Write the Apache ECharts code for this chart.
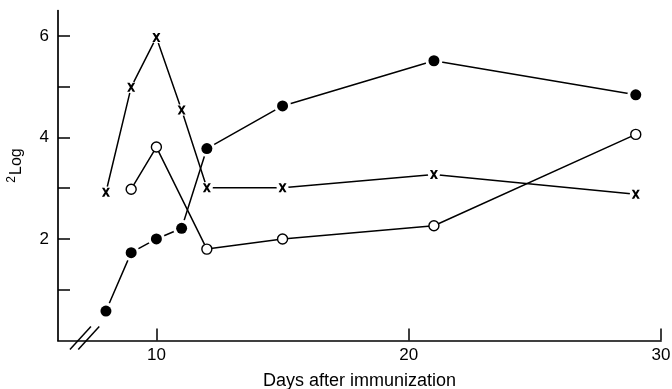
<!DOCTYPE html>
<html>
<head>
<meta charset="utf-8">
<script src="https://cdn.jsdelivr.net/npm/echarts@6/dist/echarts.min.js"></script>
<style>
html,body{margin:0;padding:0;background:#fff;}
#c{width:672px;height:389px;}
</style>
</head>
<body>
<div id="c"></div>
<script>
// Data
const filledDays = [8, 9, 10, 11, 12, 15, 21, 29];
const filledVals = [0.58, 1.73, 2.0, 2.21, 3.78, 4.62, 5.51, 4.84];
const openDays = [9, 10, 12, 15, 21, 29];
const openVals = [2.98, 3.81, 1.80, 2.0, 2.26, 4.06];
const crossDays = [8, 9, 10, 11, 12, 15, 21, 29];
const crossVals = [2.92, 4.99, 5.97, 4.54, 3.01, 3.01, 3.27, 2.88];
const xTickLabels = [10, 20, 30];
const yTickLabels = [2, 4, 6];
const yMinorTicks = [1, 2, 3, 4, 5, 6];
const xAxisName = 'Days after immunization';
const yAxisName = '{sup|2}Log';
const breakAt = [6.89, 7.22];

const pairs = (xs, ys) => xs.map((x, i) => [x, ys[i]]);
const filled = pairs(filledDays, filledVals);
const open = pairs(openDays, openVals);
const cross = pairs(crossDays, crossVals);

const FONT = 'Liberation Sans';
const crossPath = 'path://M0,0 L3,0 L5,3 L7,0 L10,0 L6.6,5 L10,10 L7,10 L5,7 L3,10 L0,10 L3.4,5 Z';

function lineSeries(data) {
  return { type: 'line', data, symbol: 'none', lineStyle: { color: '#000', width: 1.5, opacity: 1 }, z: 2, silent: true, animation: false };
}
function halo(data, size) {
  return { type: 'scatter', data, symbol: 'circle', symbolSize: size, itemStyle: { color: '#fff', opacity: 1 }, z: 3, silent: true, animation: false };
}

const chart = echarts.init(document.getElementById('c'), null, { renderer: 'canvas' });
chart.setOption({
  backgroundColor: '#fff',
  animation: false,
  grid: { left: 58, right: 11, top: 10.5, bottom: 48.5, containLabel: false, outerBoundsMode: 'none' },
  xAxis: {
    type: 'value', min: 6.1, max: 30,
    splitLine: { show: false },
    axisLine: { show: true, lineStyle: { color: '#000', width: 1.7 } },
    axisTick: { show: true, inside: true, length: 12, customValues: xTickLabels, lineStyle: { color: '#000', width: 1.5 } },
    axisLabel: { customValues: xTickLabels, color: '#000', fontFamily: FONT, fontSize: 17, margin: 6, hideOverlap: false, showMaxLabel: true },
    name: xAxisName, nameLocation: 'middle', nameGap: 32,
    nameTextStyle: { color: '#000', fontFamily: FONT, fontSize: 18 }
  },
  yAxis: {
    type: 'value', min: 0, max: 6.5,
    splitLine: { show: false },
    axisLine: { show: true, lineStyle: { color: '#000', width: 1.7 } },
    axisTick: { show: true, inside: true, length: 12, customValues: yMinorTicks, lineStyle: { color: '#000', width: 1.5 } },
    axisLabel: { customValues: yTickLabels, color: '#000', fontFamily: FONT, fontSize: 17, margin: 9 },
    name: yAxisName, nameLocation: 'middle', nameRotate: 90, nameGap: 30,
    nameTextStyle: { color: '#000', fontFamily: FONT, fontSize: 16, padding: [0, 0, 0, 20],
      rich: { sup: { fontSize: 12, verticalAlign: 'bottom', padding: [0, 1, 10, 0], fontFamily: FONT, color: '#000' } } }
  },
  series: [
    lineSeries(filled), lineSeries(open), lineSeries(cross),
    halo(filled, 17), halo(cross, 12),
    { type: 'scatter', data: filled, symbol: 'circle', symbolSize: 11, itemStyle: { color: '#000', opacity: 1 }, z: 4, animation: false },
    { type: 'scatter', data: open, symbol: 'circle', symbolSize: 10, itemStyle: { color: '#fff', borderColor: '#000', borderWidth: 1.4, opacity: 1 }, z: 4, animation: false },
    { type: 'scatter', data: cross, symbol: crossPath, symbolSize: [8, 9], itemStyle: { color: '#000', opacity: 1 }, z: 4, animation: false }
  ]
});

// axis break marks "//"
const gfx = breakAt.map(v => {
  const p = chart.convertToPixel({ xAxisIndex: 0, yAxisIndex: 0 }, [v, 0]);
  return { type: 'line', shape: { x1: p[0] - 8, y1: p[1] + 9, x2: p[0] + 13, y2: p[1] - 14 }, style: { stroke: '#000', lineWidth: 1.5 }, z: 10 };
});
chart.setOption({ graphic: gfx });
</script>
</body>
</html>
